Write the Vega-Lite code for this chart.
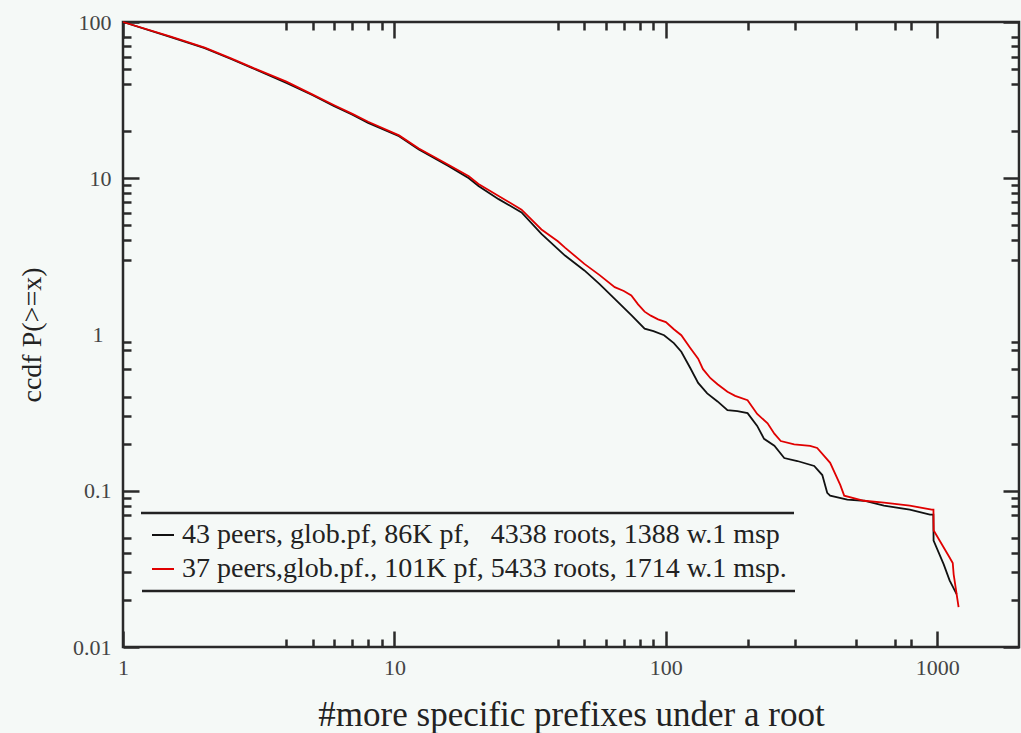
{
  "$schema": "https://vega.github.io/schema/vega-lite/v6.json",
  "width": 896,
  "height": 625,
  "autosize": {"type": "none"},
  "padding": {"left": 123, "top": 22, "right": 2, "bottom": 86},
  "background": "#f5f9f7",
  "config": {
    "view": {"stroke": "#2a2a2a", "strokeWidth": 2.5, "fill": "#f5f9f7"},
    "font": "Liberation Serif, serif",
    "legend": {"strokeWidth": 2.5, "strokeDash": [653, 79, 653, 79]}
  },
  "data": {
    "values": [
      {"series": "43 peers", "x": 1, "y": 100},
      {"series": "43 peers", "x": 1.5, "y": 80},
      {"series": "43 peers", "x": 2, "y": 68},
      {"series": "43 peers", "x": 2.5, "y": 58},
      {"series": "43 peers", "x": 3, "y": 50.7},
      {"series": "43 peers", "x": 4, "y": 40.7},
      {"series": "43 peers", "x": 5, "y": 34},
      {"series": "43 peers", "x": 6, "y": 28.9},
      {"series": "43 peers", "x": 7, "y": 25.5},
      {"series": "43 peers", "x": 8, "y": 22.6},
      {"series": "43 peers", "x": 10.4, "y": 18.6},
      {"series": "43 peers", "x": 12.3, "y": 15.3},
      {"series": "43 peers", "x": 15.8, "y": 12},
      {"series": "43 peers", "x": 18.8, "y": 10},
      {"series": "43 peers", "x": 20.4, "y": 8.93},
      {"series": "43 peers", "x": 24.2, "y": 7.35},
      {"series": "43 peers", "x": 29.4, "y": 6.05},
      {"series": "43 peers", "x": 34.8, "y": 4.4},
      {"series": "43 peers", "x": 42.5, "y": 3.2},
      {"series": "43 peers", "x": 50.1, "y": 2.57},
      {"series": "43 peers", "x": 57, "y": 2.1},
      {"series": "43 peers", "x": 64.8, "y": 1.69},
      {"series": "43 peers", "x": 74.6, "y": 1.33},
      {"series": "43 peers", "x": 83.5, "y": 1.09},
      {"series": "43 peers", "x": 90, "y": 1.05},
      {"series": "43 peers", "x": 98.5, "y": 0.99},
      {"series": "43 peers", "x": 107, "y": 0.88},
      {"series": "43 peers", "x": 114, "y": 0.776},
      {"series": "43 peers", "x": 123, "y": 0.61},
      {"series": "43 peers", "x": 131.5, "y": 0.49},
      {"series": "43 peers", "x": 142, "y": 0.42},
      {"series": "43 peers", "x": 155, "y": 0.373},
      {"series": "43 peers", "x": 168.6, "y": 0.328},
      {"series": "43 peers", "x": 183.5, "y": 0.323},
      {"series": "43 peers", "x": 200, "y": 0.314},
      {"series": "43 peers", "x": 217, "y": 0.26},
      {"series": "43 peers", "x": 230, "y": 0.215},
      {"series": "43 peers", "x": 251, "y": 0.194},
      {"series": "43 peers", "x": 273, "y": 0.162},
      {"series": "43 peers", "x": 305, "y": 0.155},
      {"series": "43 peers", "x": 352, "y": 0.144},
      {"series": "43 peers", "x": 377, "y": 0.126},
      {"series": "43 peers", "x": 393, "y": 0.097},
      {"series": "43 peers", "x": 403, "y": 0.093},
      {"series": "43 peers", "x": 466, "y": 0.0877},
      {"series": "43 peers", "x": 537, "y": 0.0863},
      {"series": "43 peers", "x": 636, "y": 0.0802},
      {"series": "43 peers", "x": 792, "y": 0.0757},
      {"series": "43 peers", "x": 940, "y": 0.0703},
      {"series": "43 peers", "x": 967, "y": 0.0703},
      {"series": "43 peers", "x": 969, "y": 0.048},
      {"series": "43 peers", "x": 1056, "y": 0.0338},
      {"series": "43 peers", "x": 1110, "y": 0.0267},
      {"series": "43 peers", "x": 1178, "y": 0.0218},
      {"series": "37 peers", "x": 1, "y": 100},
      {"series": "37 peers", "x": 1.5, "y": 80.5},
      {"series": "37 peers", "x": 2, "y": 68.5},
      {"series": "37 peers", "x": 2.5, "y": 58.5},
      {"series": "37 peers", "x": 3, "y": 51},
      {"series": "37 peers", "x": 4, "y": 41.5},
      {"series": "37 peers", "x": 5, "y": 34.3},
      {"series": "37 peers", "x": 6, "y": 29.3},
      {"series": "37 peers", "x": 7, "y": 25.8},
      {"series": "37 peers", "x": 8, "y": 23},
      {"series": "37 peers", "x": 10.4, "y": 18.8},
      {"series": "37 peers", "x": 12.3, "y": 15.5},
      {"series": "37 peers", "x": 15.8, "y": 12.2},
      {"series": "37 peers", "x": 18.8, "y": 10.3},
      {"series": "37 peers", "x": 20.4, "y": 9.2},
      {"series": "37 peers", "x": 24.2, "y": 7.7},
      {"series": "37 peers", "x": 29.4, "y": 6.3},
      {"series": "37 peers", "x": 34.8, "y": 4.7},
      {"series": "37 peers", "x": 40, "y": 3.95},
      {"series": "37 peers", "x": 42.5, "y": 3.6},
      {"series": "37 peers", "x": 50.1, "y": 2.83},
      {"series": "37 peers", "x": 57, "y": 2.4},
      {"series": "37 peers", "x": 64.8, "y": 2.01},
      {"series": "37 peers", "x": 70, "y": 1.9},
      {"series": "37 peers", "x": 74.6, "y": 1.78},
      {"series": "37 peers", "x": 79, "y": 1.56},
      {"series": "37 peers", "x": 83.5, "y": 1.4},
      {"series": "37 peers", "x": 88, "y": 1.32},
      {"series": "37 peers", "x": 93.6, "y": 1.25},
      {"series": "37 peers", "x": 100, "y": 1.2},
      {"series": "37 peers", "x": 107, "y": 1.08},
      {"series": "37 peers", "x": 114, "y": 0.99},
      {"series": "37 peers", "x": 123, "y": 0.82},
      {"series": "37 peers", "x": 131.5, "y": 0.7},
      {"series": "37 peers", "x": 137, "y": 0.6},
      {"series": "37 peers", "x": 146, "y": 0.525},
      {"series": "37 peers", "x": 155, "y": 0.48},
      {"series": "37 peers", "x": 168.6, "y": 0.43},
      {"series": "37 peers", "x": 180, "y": 0.405},
      {"series": "37 peers", "x": 200, "y": 0.38},
      {"series": "37 peers", "x": 217, "y": 0.31},
      {"series": "37 peers", "x": 237, "y": 0.27},
      {"series": "37 peers", "x": 251, "y": 0.232},
      {"series": "37 peers", "x": 265, "y": 0.208},
      {"series": "37 peers", "x": 297, "y": 0.198},
      {"series": "37 peers", "x": 340, "y": 0.194},
      {"series": "37 peers", "x": 361, "y": 0.188},
      {"series": "37 peers", "x": 403, "y": 0.151},
      {"series": "37 peers", "x": 439, "y": 0.109},
      {"series": "37 peers", "x": 454, "y": 0.093},
      {"series": "37 peers", "x": 537, "y": 0.0863},
      {"series": "37 peers", "x": 636, "y": 0.0839},
      {"series": "37 peers", "x": 792, "y": 0.0802},
      {"series": "37 peers", "x": 954, "y": 0.0757},
      {"series": "37 peers", "x": 968, "y": 0.0757},
      {"series": "37 peers", "x": 970, "y": 0.0556},
      {"series": "37 peers", "x": 1110, "y": 0.0374},
      {"series": "37 peers", "x": 1140, "y": 0.0345},
      {"series": "37 peers", "x": 1149, "y": 0.0292},
      {"series": "37 peers", "x": 1198, "y": 0.018}
    ]
  },
  "layer": [
    {
      "transform": [{"filter": "datum.series == '43 peers'"}],
      "mark": {"type": "line", "strokeWidth": 1.8},
      "encoding": {
        "x": {
          "field": "x", "type": "quantitative",
          "scale": {"type": "log", "domain": [1, 2000], "nice": false},
          "axis": {
            "orient": "bottom",
            "values": [1,4,5,6,7,8,9,10,40,50,60,70,80,90,100,200,300,500,700,800,1000],
            "grid": false, "domain": false,
            "tickColor": "#2a2a2a", "tickWidth": 2.5,
            "tickSize": {"condition": {"test": "indexof([1,10,100,1000], datum.value) >= 0", "value": -16}, "value": -8},
            "labelExpr": "indexof([1,10,100,1000], datum.value) >= 0 ? '' + datum.value : ''",
            "labelOverlap": false, "labelFlush": false, "labelBound": false,
            "labelFont": "Liberation Serif, serif", "labelFontSize": 22, "labelColor": "#444",
            "labelPadding": 26,
            "title": "#more specific prefixes under a root",
            "titleFont": "Liberation Serif, serif", "titleFontSize": 35, "titleFontWeight": "normal",
            "titleColor": "#222", "titlePadding": 11
          }
        },
        "y": {
          "field": "y", "type": "quantitative",
          "scale": {"type": "log", "domain": [0.01, 100], "nice": false},
          "axis": {
            "orient": "left",
            "values": [0.01,0.02,0.03,0.04,0.05,0.07,0.08,0.09,0.1,0.2,0.3,0.4,0.6,0.8,0.9,1,3,4,5,6,7,8,9,10,20,40,50,60,70,80,100],
            "grid": false, "domain": false,
            "tickColor": "#2a2a2a", "tickWidth": 2.5,
            "tickSize": {"condition": {"test": "indexof([0.01,0.1,10,100], datum.value) >= 0", "value": -16}, "value": -8},
            "tickOpacity": {"condition": {"test": "datum.value == 1", "value": 0}, "value": 1},
            "labelExpr": "indexof([0.01,0.1,1,10,100], datum.value) >= 0 ? '' + datum.value : ''",
            "labelOverlap": false, "labelFlush": false, "labelBound": false,
            "labelFont": "Liberation Serif, serif", "labelFontSize": 22, "labelColor": "#444",
            "labelPadding": 28,
            "title": "ccdf P(>=x)",
            "titleFont": "Liberation Serif, serif", "titleFontSize": 28, "titleFontWeight": "normal",
            "titleColor": "#222", "titlePadding": 26
          }
        },
        "color": {
          "field": "series", "type": "nominal",
          "scale": {"domain": ["43 peers", "37 peers"], "range": ["#111111", "#e00000"]},
          "legend": {
            "orient": "none", "legendX": 18, "legendY": 491,
            "title": null,
            "symbolType": "stroke", "symbolSize": 484, "symbolStrokeWidth": 2,
            "labelFont": "Liberation Serif, serif", "labelFontSize": 28, "labelColor": "#222",
            "labelLimit": 0, "labelOffset": 5,
            "labelExpr": "datum.value == '43 peers' ? '43 peers, glob.pf, 86K pf,\u00a0\u00a0 4338 roots, 1388 w.1 msp' : '37 peers,glob.pf., 101K pf, 5433 roots, 1714 w.1 msp.'",
            "padding": 8, "rowPadding": 6,
            "strokeColor": "#222"
          }
        }
      }
    },
    {
      "transform": [{"filter": "datum.series == '37 peers'"}],
      "mark": {"type": "line", "strokeWidth": 1.8},
      "encoding": {
        "x": {
          "field": "x", "type": "quantitative",
          "axis": {
            "orient": "top",
            "values": [1,4,5,6,7,8,9,10,40,50,60,70,80,90,100,200,300,500,700,800,1000],
            "grid": false, "domain": false, "labels": false, "title": null,
            "tickColor": "#2a2a2a", "tickWidth": 2.5,
            "tickSize": {"condition": {"test": "indexof([1,10,100,1000], datum.value) >= 0", "value": -16}, "value": -8}
          }
        },
        "y": {
          "field": "y", "type": "quantitative",
          "axis": {
            "orient": "right",
            "values": [0.01,0.02,0.03,0.04,0.05,0.07,0.08,0.09,0.1,0.2,0.3,0.4,0.6,0.8,0.9,1,3,4,5,6,7,8,9,10,20,40,50,60,70,80,100],
            "grid": false, "domain": false, "labels": false, "title": null,
            "tickColor": "#2a2a2a", "tickWidth": 2.5,
            "tickSize": {"condition": {"test": "indexof([0.01,0.1,10,100], datum.value) >= 0", "value": -16}, "value": -8},
            "tickOpacity": {"condition": {"test": "datum.value == 1", "value": 0}, "value": 1}
          }
        },
        "color": {"field": "series", "type": "nominal"}
      }
    }
  ],
  "resolve": {"axis": {"x": "independent", "y": "independent"}}
}
